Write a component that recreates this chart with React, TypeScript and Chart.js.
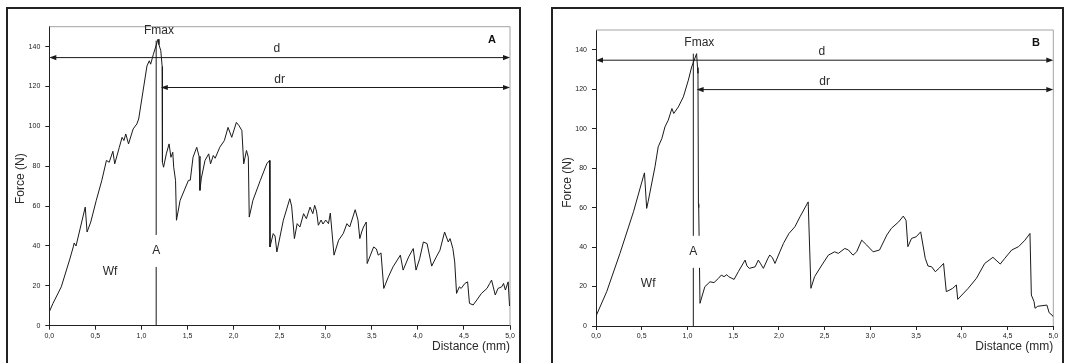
import React, { useEffect, useRef } from 'react';
import { Chart, registerables } from 'chart.js';

Chart.register(...registerables);

// Force–displacement record, specimen A
const distanceA = [
  0.0, 0.04, 0.13, 0.22, 0.26, 0.27, 0.29, 0.39, 0.41, 0.45, 0.51, 0.57, 0.62, 0.65, 0.69, 0.71,
  0.76, 0.79, 0.81, 0.83, 0.86, 0.91, 0.95, 0.97, 1.06, 1.085, 1.1, 1.13, 1.18, 1.19, 1.21, 1.225,
  1.228, 1.24, 1.27, 1.3, 1.32, 1.34, 1.35, 1.37, 1.38, 1.42, 1.51, 1.53, 1.56, 1.6, 1.625, 1.635,
  1.65, 1.69, 1.73, 1.75, 1.78, 1.8, 1.85, 1.9, 1.94, 1.98, 2.03, 2.06, 2.09, 2.11, 2.14, 2.16,
  2.17, 2.21, 2.29, 2.36, 2.39, 2.395, 2.43, 2.45, 2.47, 2.54, 2.61, 2.63, 2.66, 2.69, 2.72, 2.76,
  2.79, 2.83, 2.86, 2.88, 2.9, 2.92, 2.95, 2.97, 3.0, 3.03, 3.05, 3.09, 3.14, 3.19, 3.23, 3.26,
  3.32, 3.35, 3.37, 3.39, 3.41, 3.44, 3.45, 3.52, 3.55, 3.57, 3.6, 3.63, 3.68, 3.73, 3.81, 3.84,
  3.9, 3.95, 3.98, 4.02, 4.06, 4.1, 4.15, 4.2, 4.24, 4.29, 4.33, 4.35, 4.38, 4.4, 4.42, 4.45,
  4.47, 4.51, 4.54, 4.56, 4.6, 4.64, 4.69, 4.75, 4.78, 4.8, 4.84, 4.87, 4.91, 4.93, 4.95, 4.98,
  4.995,
];
const forceA = [
  7, 11.2, 19.5, 33, 39.5, 41.5, 40, 59.5, 47, 52, 62.9, 72.9, 82.9, 82, 87.5, 81.2,
  89.5, 94.5, 92.9, 96.2, 91.2, 98.7, 101.2, 103.7, 130.3, 132.9, 131.2, 136.2, 143.7, 141, 138, 130,
  82, 79.5, 86.2, 91.2, 84.5, 87, 79.5, 72.9, 52.9, 62.9, 72.9, 73, 84.5, 89.5, 85, 67.9,
  74, 82.9, 86.2, 81.2, 85.4, 84, 89.5, 92.9, 99.5, 94.5, 102, 100.3, 97.9, 81.2, 87.9, 84.5,
  54.5, 62.9, 72.9, 81.2, 82.9, 39.5, 46.2, 45, 37, 52.9, 63.7, 60, 43.7, 51.2, 49.5, 56.2,
  53.7, 59.5, 56.2, 60.4, 57.5, 50.4, 53, 51, 53, 51.2, 56.5, 35.4, 42.9, 46.2, 51.2, 49.5,
  58.2, 53, 43.7, 47, 49.5, 52, 31.2, 39.5, 38.5, 35.4, 36.5, 18.7, 24.5, 29.5, 35.4, 27.9,
  34.5, 38.7, 27.9, 33.7, 42, 41.2, 29.9, 34.5, 37.9, 47, 42, 43.7, 38.7, 32, 16.2, 19.5,
  18.7, 21.2, 22, 11.2, 10.4, 12.9, 16.2, 18.7, 21.2, 22.9, 15.4, 18.7, 19.5, 21.2, 17.9, 22,
  9.9,
];

// Force–displacement record, specimen B
const distanceB = [
  0.0, 0.117, 0.262, 0.41, 0.517, 0.53, 0.554, 0.57, 0.645, 0.68, 0.72, 0.754, 0.79, 0.83, 0.85, 0.9,
  0.955, 1.01, 1.046, 1.1, 1.11, 1.115, 1.12, 1.123, 1.137, 1.19, 1.246, 1.29, 1.34, 1.37, 1.4, 1.43,
  1.45, 1.51, 1.556, 1.63, 1.65, 1.676, 1.74, 1.775, 1.8, 1.83, 1.88, 1.9, 1.93, 1.957, 2.01, 2.05,
  2.11, 2.175, 2.23, 2.32, 2.35, 2.39, 2.47, 2.54, 2.61, 2.65, 2.72, 2.76, 2.81, 2.85, 2.905, 2.96,
  3.03, 3.1, 3.18, 3.23, 3.31, 3.36, 3.39, 3.41, 3.45, 3.5, 3.55, 3.6, 3.63, 3.67, 3.71, 3.75,
  3.8, 3.83, 3.87, 3.9, 3.94, 3.955, 4.0, 4.07, 4.16, 4.25, 4.34, 4.42, 4.47, 4.545, 4.62, 4.69,
  4.745, 4.76, 4.79, 4.8, 4.83, 4.93, 4.955, 4.985, 5.0,
];
const forceB = [
  5, 17.4, 36.8, 57.9, 75.6, 77.6, 59.6, 63, 80.7, 90.8, 95, 100.9, 104.3, 110.2, 107.7, 111,
  116.1, 124.6, 131.3, 138, 131, 128, 62, 60, 11.5, 19.9, 22.4, 22, 24.2, 25.8, 25, 26,
  25, 23.6, 27.5, 33.4, 30.5, 29.2, 30, 33.4, 31.5, 29.2, 34.3, 36, 34.5, 31.7, 37.6, 41.9,
  46.9, 50.3, 55.3, 62.9, 19.1, 25, 30.9, 35.9, 37.6, 36.8, 39.3, 38.5, 35.9, 37.6, 43.5, 41,
  37.6, 38.5, 46.1, 49.5, 52.8, 55.7, 53.5, 40.2, 44.4, 45.2, 47.7, 34.3, 30.4, 30, 27.5, 29.2,
  31.7, 17.4, 18.3, 19.1, 20.8, 13.5, 15.7, 19.1, 24.2, 31.7, 34.8, 31.4, 34.3, 38.5, 40.2, 43.5,
  46.9, 15.7, 12.3, 9, 10, 10.6, 6.7, 5.6, 4.7,
];

// Axis ticks shared by both panels
const distanceTicks = [0, 0.5, 1, 1.5, 2, 2.5, 3, 3.5, 4, 4.5, 5];
const forceTicks = [0, 20, 40, 60, 80, 100, 120, 140];

// Crack-initiation marker (A) and measured spans d / dr
const markerA = { at: 1.16, top: 143 };
const markerB = { at: 1.064, top: 138 };
const spansA = [
  { name: 'd', force: 134.5, from: 0, to: 5 },
  { name: 'dr', force: 119.5, from: 1.21, to: 5 },
];
const spansB = [
  { name: 'd', force: 134.7, from: 0, to: 5 },
  { name: 'dr', force: 119.8, from: 1.1, to: 5 },
];

const FONT = '"Liberation Sans", Arial, Helvetica, sans-serif';
const INK = '#1a1a1a';

type Label = { text: string; x: number; y: number; bold?: boolean; size?: number; gap?: number };

type Panel = {
  distance: number[];
  force: number[];
  marker: { at: number; top: number };
  spans: { name: string; force: number; from: number; to: number }[];
  labels: Label[];
  width: number;
  height: number;
  yAxisWidth: number;
  padding: { left: number; top: number; right: number; bottom: number };
  yTitle: { dx: number; dy: number };
};

const panelA: Panel = {
  distance: distanceA,
  force: forceA,
  marker: markerA,
  spans: spansA,
  labels: [
    { text: 'Fmax', x: 1.19, y: 147.9 },
    { text: 'd', x: 2.47, y: 138.9 },
    { text: 'dr', x: 2.5, y: 123.4 },
    { text: 'A', x: 4.805, y: 143.4, bold: true, size: 11 },
    { text: 'Wf', x: 0.66, y: 26.9 },
    { text: 'A', x: 1.16, y: 37.5, gap: 16 },
  ],
  width: 530,
  height: 363,
  yAxisWidth: 49.3,
  padding: { left: 0, top: 26.7, right: 20, bottom: 17.3 },
  yTitle: { dx: -28.5, dy: 2.5 },
};

const panelB: Panel = {
  distance: distanceB,
  force: forceB,
  marker: markerB,
  spans: spansB,
  labels: [
    { text: 'Fmax', x: 1.13, y: 143.4 },
    { text: 'd', x: 2.47, y: 139.2 },
    { text: 'dr', x: 2.5, y: 124 },
    { text: 'B', x: 4.81, y: 143.6, bold: true, size: 11 },
    { text: 'Wf', x: 0.57, y: 21.6 },
    { text: 'A', x: 1.064, y: 37.6, gap: 16 },
  ],
  width: 535,
  height: 363,
  yAxisWidth: 66,
  padding: { left: 0, top: 30, right: 11.7, bottom: 17 },
  yTitle: { dx: -28.5, dy: 4.5 },
};

function arrowHead(ctx: CanvasRenderingContext2D, x: number, y: number, dir: number) {
  ctx.beginPath();
  ctx.moveTo(x, y);
  ctx.lineTo(x - dir * 7, y - 2.6);
  ctx.lineTo(x - dir * 7, y + 2.6);
  ctx.closePath();
  ctx.fill();
}

function decorPlugin(p: Panel) {
  return {
    id: 'panelDecor',
    beforeDatasetsDraw(chart: any) {
      const { ctx, chartArea: a } = chart;
      ctx.save();
      ctx.strokeStyle = '#a3a3a3';
      ctx.lineWidth = 1;
      ctx.beginPath();
      ctx.moveTo(a.left, a.top);
      ctx.lineTo(a.right, a.top);
      ctx.lineTo(a.right, a.bottom);
      ctx.stroke();
      ctx.restore();
    },
    afterDatasetsDraw(chart: any) {
      const { ctx, chartArea: a } = chart;
      const xs = chart.scales.x;
      const ys = chart.scales.y;
      ctx.save();

      // measured spans with arrowheads at both ends
      ctx.strokeStyle = INK;
      ctx.fillStyle = INK;
      ctx.lineWidth = 1;
      for (const s of p.spans) {
        const y = ys.getPixelForValue(s.force);
        const x0 = xs.getPixelForValue(s.from);
        const x1 = xs.getPixelForValue(s.to);
        ctx.beginPath();
        ctx.moveTo(x0 + 3, y);
        ctx.lineTo(x1 - 3, y);
        ctx.stroke();
        arrowHead(ctx, x0, y, -1);
        arrowHead(ctx, x1, y, 1);
      }

      // annotation texts
      ctx.textAlign = 'center';
      ctx.textBaseline = 'middle';
      for (const l of p.labels) {
        const x = xs.getPixelForValue(l.x);
        const y = ys.getPixelForValue(l.y);
        const size = l.size ?? 12;
        if (l.gap) {
          ctx.fillStyle = '#ffffff';
          ctx.fillRect(x - l.gap / 2, y - l.gap, l.gap, l.gap * 2);
        }
        ctx.font = `${l.bold ? 'bold ' : ''}${size}px ${FONT}`;
        ctx.fillStyle = l.bold ? '#111' : '#2a2a2a';
        ctx.fillText(l.text, x, y);
      }

      // axis titles
      ctx.font = `12px ${FONT}`;
      ctx.fillStyle = '#2a2a2a';
      ctx.textAlign = 'right';
      ctx.fillText('Distance (mm)', a.right, a.bottom + 21);
      ctx.save();
      ctx.translate(a.left + p.yTitle.dx, (a.top + a.bottom) / 2 + p.yTitle.dy);
      ctx.rotate(-Math.PI / 2);
      ctx.textAlign = 'center';
      ctx.fillText('Force (N)', 0, 0);
      ctx.restore();

      ctx.restore();
    },
  };
}

function makeChart(canvas: HTMLCanvasElement, p: Panel) {
  const tickFont = { family: FONT, size: 7 };
  return new Chart(canvas, {
    type: 'line',
    data: {
      datasets: [
        {
          data: p.distance.map((x, i) => ({ x, y: p.force[i] })),
          borderColor: INK,
          borderWidth: 1,
          pointRadius: 0,
          tension: 0,
          fill: false,
        },
        {
          data: [
            { x: p.marker.at, y: 0 },
            { x: p.marker.at, y: p.marker.top },
          ],
          borderColor: INK,
          borderWidth: 1,
          pointRadius: 0,
          fill: false,
        },
      ],
    },
    options: {
      responsive: false,
      animation: false,
      devicePixelRatio: 1,
      events: [],
      layout: { padding: p.padding },
      plugins: { legend: { display: false }, tooltip: { enabled: false } },
      scales: {
        x: {
          type: 'linear',
          min: 0,
          max: 5,
          afterBuildTicks: (s: any) => {
            s.ticks = distanceTicks.map((value) => ({ value }));
          },
          afterFit: (s: any) => {
            s.height = 20;
          },
          ticks: {
            autoSkip: false,
            maxRotation: 0,
            font: tickFont,
            color: '#222',
            padding: 2,
            callback: (v: any) => Number(v).toFixed(1).replace('.', ','),
          },
          grid: { drawOnChartArea: false, drawTicks: true, tickLength: 4, color: '#222' },
          border: { color: '#222', width: 1 },
        },
        y: {
          type: 'linear',
          min: 0,
          max: 150,
          afterBuildTicks: (s: any) => {
            s.ticks = forceTicks.map((value) => ({ value }));
          },
          afterFit: (s: any) => {
            s.width = p.yAxisWidth;
          },
          ticks: { font: tickFont, color: '#222', padding: 5 },
          grid: { drawOnChartArea: false, drawTicks: true, tickLength: 4, color: '#222' },
          border: { color: '#222', width: 1 },
        },
      },
    } as any,
    plugins: [decorPlugin(p)],
  });
}

function PanelChart({ panel, left }: { panel: Panel; left: number }) {
  const ref = useRef<HTMLCanvasElement>(null);
  useEffect(() => {
    if (!ref.current) return;
    const chart = makeChart(ref.current, panel);
    return () => chart.destroy();
  }, [panel]);
  return (
    <canvas
      ref={ref}
      width={panel.width}
      height={panel.height}
      style={{ position: 'absolute', left, top: 0, width: panel.width, height: panel.height }}
    />
  );
}

const frameStyle = (left: number, width: number): React.CSSProperties => ({
  position: 'absolute',
  left,
  top: 7,
  width,
  height: 363 - 7,
  boxSizing: 'border-box',
  borderTop: '2px solid #222',
  borderLeft: '2px solid #222',
  borderRight: '2px solid #222',
  pointerEvents: 'none',
});

export default function App() {
  return (
    <div
      style={{
        position: 'absolute',
        left: 0,
        top: 0,
        width: 1065,
        height: 363,
        overflow: 'hidden',
        background: '#fff',
      }}
    >
      <PanelChart panel={panelA} left={0} />
      <PanelChart panel={panelB} left={530} />
      <div style={frameStyle(6, 515)} />
      <div style={frameStyle(550.5, 513.5)} />
    </div>
  );
}
